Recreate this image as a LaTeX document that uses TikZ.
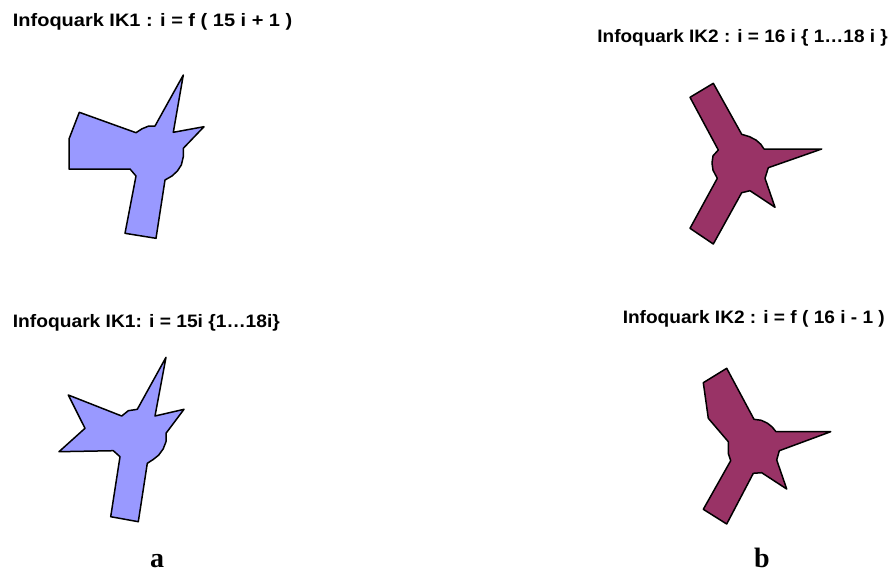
\documentclass[tikz,border=0pt]{standalone}
\usepackage{graphicx}
\usepackage{fontspec}
\setmainfont{Liberation Serif}
\newfontfamily\labelfont{Liberation Sans}
\definecolor{quarkblue}{HTML}{9999FF}
\definecolor{quarkplum}{HTML}{993366}
% horizontally widened title text
\newcommand\widetitle[2]{\scalebox{#1}[1]{#2}}
\begin{document}
\begin{tikzpicture}[x=1pt,y=-1pt,
  quark/.style={draw=black,line width=1.5pt,line join=round},
  quarkA/.style={quark,fill=quarkblue},
  quarkB/.style={quark,fill=quarkplum},
  title/.style={font=\labelfont\bfseries\fontsize{18}{20}\selectfont,inner sep=0pt},
  panel/.style={font=\bfseries\fontsize{28}{30}\selectfont,inner sep=0pt,anchor=base}]
\useasboundingbox (0,0) rectangle (891,571);

% titles
\node[title,anchor=base west] (t1) at (12.7,26) {\widetitle{1.11}{Infoquark IK1 : i = f ( 15 i + 1 )}};
\node[title,anchor=base east] (t2) at (888,42) {\widetitle{1.055}{Infoquark IK2 : i = 16 i \{ 1…18 i \}}};
\node[title,anchor=base west] (t3) at (12.7,327) {\widetitle{1.067}{Infoquark IK1: i = 15i \{1…18i\}}};
\node[title,anchor=base east] (t4) at (885,323) {\widetitle{1.06}{Infoquark IK2 : i = f ( 16 i - 1 )}};

% IK1, recursive form
\draw[quarkA] (183.3,75) -- (173.3,132.3) -- (204,126.7) -- (183.3,148.3) -- (183.3,156.7)
  -- (181.4,164.8) -- (177.4,171) -- (172.1,175.9) -- (165,180) -- (156,238.3) -- (125,233.3)
  -- (136,176) -- (130,169) -- (69,169) -- (69,139) -- (79.3,112.3) -- (136,132.7)
  -- (142,128.8) -- (148.8,126) -- (155,126) -- cycle;

% IK2, set form
\draw[quarkB] (690,97.3) -- (713.3,83.3) -- (741.7,134.3) -- (749.6,136.7) -- (756.1,140.1)
  -- (760.8,144.3) -- (764,149) -- (821.7,149) -- (768.3,167.7) -- (765,178.3) -- (775,207.3)
  -- (750,190.7) -- (741.7,192.7) -- (713.3,244) -- (690,228.3) -- (717.3,178.3)
  -- (713,170.2) -- (712,163) -- (713,155.8) -- (718.3,150) -- cycle;

% IK1, set form
\draw[quarkA] (166,357.3) -- (155,416) -- (184,409.3) -- (166,433.3) -- (166,441.7)
  -- (163.2,448.9) -- (158.6,455.2) -- (153.3,459.4) -- (147.3,463.3) -- (138.3,521.7)
  -- (110.7,516.7) -- (120,456.7) -- (113.3,450.7) -- (59,451.7) -- (85,428.3)
  -- (68.3,395) -- (121.7,416) -- (128.3,410.7) -- (137.3,409.3) -- cycle;

% IK2, recursive form
\draw[quarkB] (703.3,382.7) -- (726.7,368.3) -- (754,419.3) -- (761.3,420.3) -- (767.3,423.1)
  -- (772.1,426.9) -- (776,431.7) -- (830.7,431.7) -- (779.3,450.7) -- (776.7,460)
  -- (786.7,489) -- (761.7,472.7) -- (753.3,473.3) -- (726.7,524) -- (703.3,509.3)
  -- (730.7,460.7) -- (728.3,453.3) -- (728.3,441.7) -- (708.3,418.3) -- cycle;

% panel letters
\node[panel] (pa) at (157,567) {a};
\node[panel] (pb) at (762,567) {b};
\end{tikzpicture}
\end{document}
